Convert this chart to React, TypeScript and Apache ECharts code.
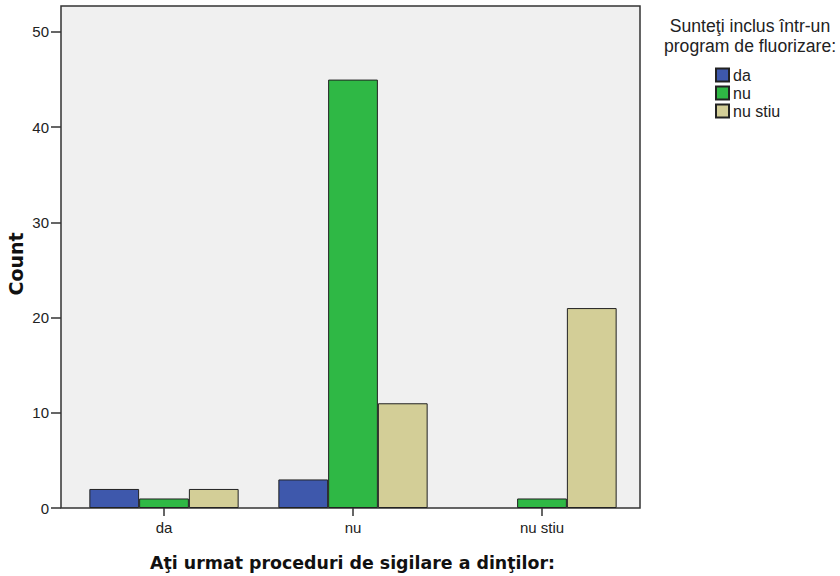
import React, { useEffect, useRef } from "react";
import * as echarts from "echarts";

const categories = ["da", "nu", "nu stiu"];
const seriesNames = ["da", "nu", "nu stiu"];
const valuesDa = [2, 3, 0];
const valuesNu = [1, 45, 1];
const valuesNuStiu = [2, 11, 21];
const colors = ["#3e58ac", "#2fb845", "#d3ce97"];
const yTicks = [0, 10, 20, 30, 40, 50];

export default function App() {
  const ref = useRef<HTMLDivElement>(null);
  useEffect(() => {
    if (!ref.current) return;
    const chart = echarts.init(ref.current, null, { renderer: "svg" });
    const font = "'Liberation Sans', Arial, sans-serif";
    const boldFont = "'DejaVu Sans', sans-serif";
    const allValues = [valuesDa, valuesNu, valuesNuStiu];
    chart.setOption({
      animation: false,
      backgroundColor: "#ffffff",
      grid: { left: 69.5, right: 203.5, top: 6, bottom: 68, containLabel: false },
      xAxis: {
        type: "category",
        data: categories,
        axisLine: { show: false },
        axisTick: { show: true, alignWithLabel: true, length: 8, lineStyle: { color: "#333", width: 1.5 } },
        axisLabel: { color: "#222", fontSize: 15, fontFamily: font, margin: 12 },
      },
      yAxis: {
        type: "value",
        min: 0,
        max: 52.73,
        interval: 10,
        offset: 8.5,
        splitLine: { show: false },
        axisLine: { show: false },
        axisTick: { show: true, length: 10, lineStyle: { color: "#333", width: 1.5 } },
        axisLabel: {
          color: "#222",
          fontSize: 15,
          fontFamily: font,
          margin: 12,
          showMaxLabel: false,
          formatter: (v: number) => (yTicks.indexOf(v) >= 0 ? String(v) : ""),
        },
      },
      legend: {
        orient: "vertical",
        left: 715,
        top: 67,
        padding: 0,
        itemWidth: 13,
        itemHeight: 13,
        itemGap: 2,
        icon: "rect",
        textStyle: { color: "#222", fontSize: 16, fontFamily: font, padding: [0, 0, 0, -1], lineHeight: 13 },
        data: seriesNames,
      },
      graphic: [
        {
          type: "rect",
          z: -10,
          silent: true,
          shape: { x: 61, y: 6, width: 579, height: 502 },
          style: { fill: "#f0f0f0", stroke: "#333", lineWidth: 1.5 },
        },
        {
          type: "text",
          x: 750,
          y: 16,
          style: {
            text: "Sunteţi inclus într-un\nprogram de fluorizare:",
            fill: "#222",
            font: `17.6px ${font}`,
            align: "center",
            verticalAlign: "top",
            lineHeight: 20,
          },
        },
        {
          type: "text",
          x: 352.5,
          y: 563,
          style: {
            text: "Aţi urmat proceduri de sigilare a dinţilor:",
            fill: "#111",
            font: `bold 17.4px ${boldFont}`,
            align: "center",
            verticalAlign: "middle",
          },
        },
        {
          type: "text",
          x: 16,
          y: 264,
          rotation: Math.PI / 2,
          style: {
            text: "Count",
            fill: "#111",
            font: `bold 19px ${boldFont}`,
            align: "center",
            verticalAlign: "middle",
          },
        },
      ],
      series: seriesNames.map((name, i) => ({
        name,
        type: "bar",
        data: allValues[i].map((v) => (v === 0 ? { value: v, itemStyle: { borderWidth: 0 } } : v)),
        barGap: "0%",
        barCategoryGap: "21%",
        itemStyle: { color: colors[i], borderColor: "#222", borderWidth: 1 },
      })),
    });
    return () => chart.dispose();
  }, []);
  return <div ref={ref} style={{ position: "absolute", left: 0, top: 0, width: 840, height: 576 }} />;
}
